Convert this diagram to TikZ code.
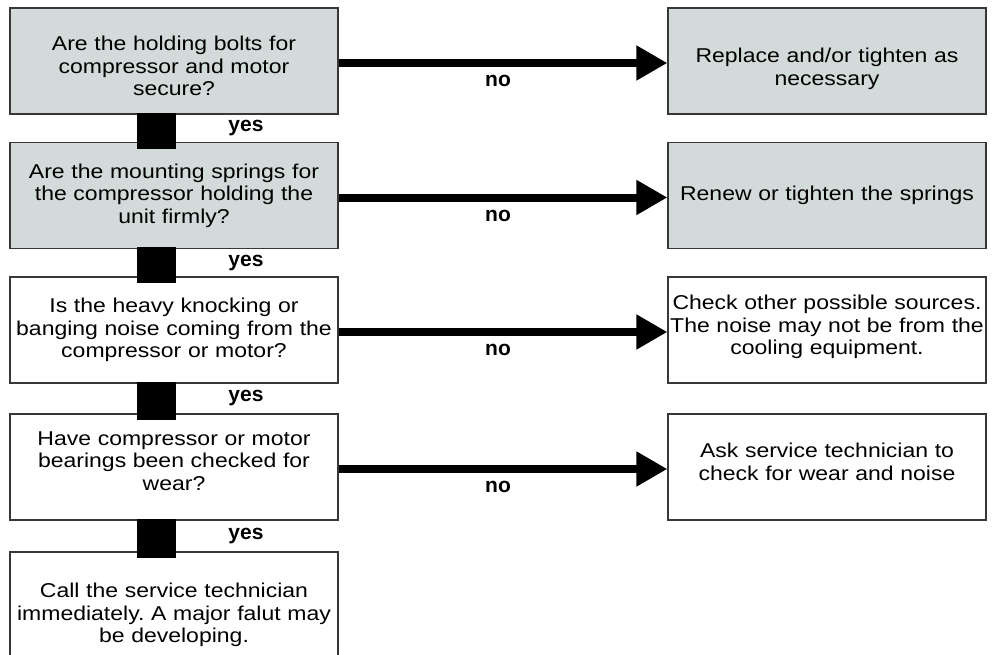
\documentclass[tikz,border=0pt]{standalone}
\usepackage{fontspec}
\setmainfont{Liberation Sans}[FakeStretch=1.15]
\newfontfamily\lblfont{Liberation Sans}
\usetikzlibrary{arrows.meta,calc}
\definecolor{boxgray}{RGB}{210,218,218}
\definecolor{edgegray}{RGB}{55,55,55}
\frenchspacing
\tikzset{
  qbox/.style={draw=edgegray, line width=1.2pt, minimum width=328pt, minimum height=106pt,
    text width=328pt, inner sep=0pt, align=center, font=\fontsize{20}{22.5}\selectfont},
  abox/.style={qbox, minimum width=318pt, text width=318pt},
  shaded/.style={fill=boxgray},
  textdown/.style={execute at begin node={\rule{0pt}{\dimexpr14.6pt+#1\relax}}},
  textup/.style={execute at end node={\par\vspace*{#1}}},
  noarrow/.style={line width=8pt, -{Triangle[length=31pt,width=33pt]}},
  yesbar/.style={fill=black},
  lbl/.style={font=\lblfont\bfseries\fontsize{21}{24}\selectfont, inner sep=0pt}
}
\begin{document}
\begin{tikzpicture}[x=1pt,y=-1pt]
  \useasboundingbox (0,0) rectangle (992,655);
  % Question boxes
  \node[qbox,shaded,textdown=10pt] (q1) at (174,61) {Are the holding bolts for\\compressor and motor\\secure?};
  \node[qbox,shaded] (q2) at (174,195.5) {Are the mounting springs for\\the compressor holding the\\unit firmly?};
  \node[qbox] (q3) at (174,330) {Is the heavy knocking or\\banging noise coming from the\\compressor or motor?};
  \node[qbox,textup=12pt] (q4) at (174,467) {Have compressor or motor\\bearings been checked for\\wear?};
  \node[qbox,textdown=20pt] (q5) at (174,605) {Call the service technician\\immediately. A major falut may\\be developing.};
  % Action boxes
  \node[abox,shaded,textdown=16pt] (a1) at (827,61) {Replace and/or tighten as\\necessary};
  \node[abox,shaded] (a2) at (827,195.5) {Renew or tighten the springs};
  \node[abox,textup=6pt] (a3) at (827,330) {Check other possible sources.\\The noise may not be from the\\cooling equipment.};
  \node[abox,textup=10pt] (a4) at (827,467) {Ask service technician to\\check for wear and noise};
  % no arrows
  \foreach \i in {1,...,4}
    \draw[noarrow] ([yshift=-2pt]q\i.east) -- ([yshift=-2pt]a\i.west)
      node[lbl,midway,yshift=-18pt,xshift=-5pt] (no\i) {no};
  % yes bars
  \foreach \i/\j in {1/2,2/3,3/4,4/5} {
    \fill[yesbar] ($(q\i.south west)+(128,-2)$) rectangle ($(q\j.north west)+(167,7)$);
    \node[lbl] (yes\i) at ($(q\i.south)!0.5!(q\j.north)+(72,0)$) {yes};
  }
\end{tikzpicture}
\end{document}
